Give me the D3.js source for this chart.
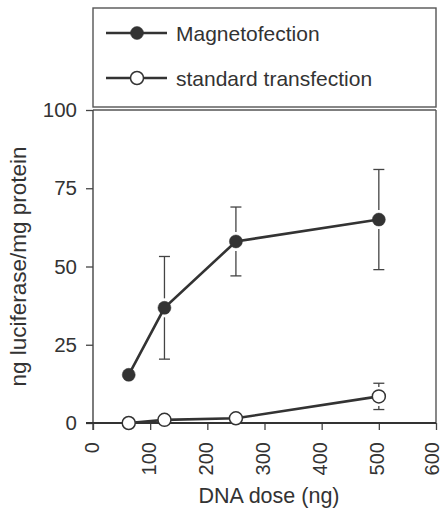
<!DOCTYPE html>
<html>
<head>
<meta charset="utf-8">
<script src="https://cdn.jsdelivr.net/npm/d3@7"></script>
<style>
  body { margin: 0; background: #fff; }
  text { font-family: "Liberation Sans", Arial, sans-serif; fill: #333; }
</style>
</head>
<body>
<svg id="chart" width="443" height="511"></svg>
<script>
// chart values
var doses = [62.5, 125, 250, 500];
var magnet = [15.4, 36.8, 58, 65];
var magnetErr = [0, 16.4, 11, 16];
var standard = [0, 1, 1.5, 8.5];
var standardErr = [0, 0, 0, 4.2];
var xTicks = [0, 100, 200, 300, 400, 500, 600];
var yTicks = [0, 25, 50, 75, 100];
var seriesNames = ["Magnetofection", "standard transfection"];

const width = 443;
const height = 511;
const ink = "#333";
var svg = d3.select("#chart");

var x = d3.scaleLinear().domain([0, 600]).range([93, 436]);
var y = d3.scaleLinear().domain([0, 100]).range([423, 110]);

// frame (top and right) of the plot area
svg.append("line")
    .attr("x1", x(0)).attr("y1", y(100)).attr("x2", x(600)).attr("y2", y(100))
    .attr("stroke", "#555").attr("stroke-width", 1.4);
svg.append("line")
    .attr("x1", x(600)).attr("y1", y(100)).attr("x2", x(600)).attr("y2", y(0))
    .attr("stroke", "#555").attr("stroke-width", 1.4);

// y axis
var yAxis = svg.append("g")
    .attr("transform", "translate(" + x(0) + ",0)")
    .call(d3.axisLeft(y).tickValues(yTicks).tickSize(7).tickPadding(9));
yAxis.select(".domain").remove();
yAxis.selectAll(".tick line").attr("stroke", "#444").attr("stroke-width", 1.3);
yAxis.selectAll(".tick text").style("font-size", "20.5px").attr("fill", ink);
svg.append("line")
    .attr("x1", x(0)).attr("y1", y(100)).attr("x2", x(0)).attr("y2", y(0) + 7)
    .attr("stroke", "#444").attr("stroke-width", 1.4);

// x axis
var xAxis = svg.append("g")
    .attr("transform", "translate(0," + y(0) + ")")
    .call(d3.axisBottom(x).tickValues(xTicks).tickSize(7).tickPadding(0));
xAxis.select(".domain").remove();
xAxis.selectAll(".tick line").attr("stroke", "#444").attr("stroke-width", 1.3);
xAxis.selectAll(".tick text")
    .style("font-size", "20px")
    .attr("fill", ink)
    .attr("text-anchor", "end")
    .attr("dy", null)
    .attr("y", 0)
    .attr("transform", function(d) {
        // last label sits at the right edge, pull it in a little
        var shift = d === 600 ? 2 : 5;
        return "translate(0,19) rotate(-90) translate(0," + shift + ")";
    });
svg.append("line")
    .attr("x1", x(0) - 7).attr("y1", y(0)).attr("x2", x(600)).attr("y2", y(0))
    .attr("stroke", ink).attr("stroke-width", 2.2);

// axis titles
svg.append("text")
    .attr("x", 269).attr("y", 503)
    .attr("text-anchor", "middle")
    .style("font-size", "21.5px")
    .text("DNA dose (ng)");
svg.append("text")
    .attr("transform", "translate(26," + ((y(0) + y(100)) / 2) + ") rotate(-90)")
    .attr("text-anchor", "middle")
    .style("font-size", "22.5px")
    .text("ng luciferase/mg protein");

var r = 6.5;
// error bars, drawn away from the marker
function drawErrors(vals, errs) {
    vals.forEach(function(v, i) {
        if (!errs[i]) return;
        var cx = x(doses[i]);
        [1, -1].forEach(function(s) {
            var yEnd = y(v + s * errs[i]);
            var yStart = y(v) - s * (r + 3);
            svg.append("line")
                .attr("x1", cx).attr("y1", yStart).attr("x2", cx).attr("y2", yEnd)
                .attr("stroke", "#444").attr("stroke-width", 1.3);
            svg.append("line")
                .attr("x1", cx - 5.5).attr("y1", yEnd).attr("x2", cx + 5.5).attr("y2", yEnd)
                .attr("stroke", "#444").attr("stroke-width", 1.3);
        });
    });
}
drawErrors(magnet, magnetErr);
drawErrors(standard, standardErr);

var line = d3.line()
    .x(function(d, i) { return x(doses[i]); })
    .y(function(d) { return y(d); });

function drawSeries(vals, filled) {
    svg.append("path")
        .datum(vals)
        .attr("d", line)
        .attr("fill", "none")
        .attr("stroke", ink)
        .attr("stroke-width", 2.6);
    svg.selectAll(null)
        .data(vals)
        .enter().append("circle")
        .attr("cx", function(d, i) { return x(doses[i]); })
        .attr("cy", function(d) { return y(d); })
        .attr("r", r)
        .attr("fill", filled ? ink : "#fff")
        .attr("stroke", ink)
        .attr("stroke-width", filled ? 0.5 : 1.5);
}
drawSeries(standard, false);
drawSeries(magnet, true);

// legend box above the plot
svg.append("rect")
    .attr("x", 93).attr("y", 8)
    .attr("width", 343).attr("height", 99)
    .attr("fill", "#fff")
    .attr("stroke", "#555")
    .attr("stroke-width", 1.4);
var legendY = [33, 78];
seriesNames.forEach(function(name, i) {
    var g = svg.append("g").attr("transform", "translate(0," + legendY[i] + ")");
    g.append("line")
        .attr("x1", 106).attr("x2", 167).attr("y1", 0).attr("y2", 0)
        .attr("stroke", ink).attr("stroke-width", 2.6);
    g.append("circle")
        .attr("cx", 137).attr("cy", 0).attr("r", r)
        .attr("fill", i === 0 ? ink : "#fff")
        .attr("stroke", ink)
        .attr("stroke-width", i === 0 ? 0.5 : 1.5);
    g.append("text")
        .attr("x", 176).attr("y", 7.5)
        .style("font-size", "21px")
        .text(name);
});
</script>
</body>
</html>
